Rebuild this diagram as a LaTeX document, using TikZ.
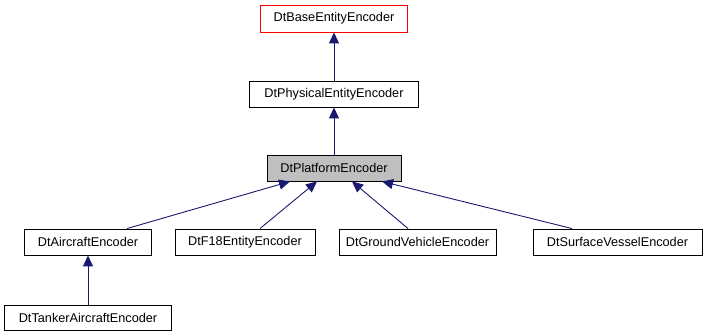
\documentclass[tikz,border=0pt]{standalone}
\usepackage{fontspec}
\setmainfont{Liberation Sans}
\usetikzlibrary{arrows.meta}
\definecolor{edgeblue}{HTML}{191970}
\definecolor{boxgray}{HTML}{BFBFBF}
\tikzset{
  cls/.style={draw=black, line width=0.9pt, fill=white, minimum height=26pt, inner sep=0pt, font=\fontsize{12.7}{15}\selectfont},
  inherit/.style={draw=edgeblue, line width=0.9pt, -{Triangle[length=11pt,width=10pt]}, color=edgeblue}
}
\begin{document}
\begin{tikzpicture}[x=1pt,y=-1pt]
\useasboundingbox[fill=white] (0,0) rectangle (707,336);
\node[cls, draw=red, minimum width=147pt, minimum height=27pt] (base) at (334,18.5) {DtBaseEntityEncoder};
\node[cls, minimum width=169pt] (phys) at (334,94) {DtPhysicalEntityEncoder};
\node[cls, fill=boxgray, minimum width=134pt] (plat) at (334,168) {DtPlatformEncoder};
\node[cls, minimum width=127pt] (air) at (88,242) {DtAircraftEncoder};
\node[cls, minimum width=140pt] (f18) at (245,242) {DtF18EntityEncoder};
\node[cls, minimum width=157pt] (ground) at (417.5,242) {DtGroundVehicleEncoder};
\node[cls, minimum width=169pt] (surf) at (617.5,242) {DtSurfaceVesselEncoder};
\node[cls, minimum width=167pt, minimum height=25pt] (tank) at (88,317.5) {DtTankerAircraftEncoder};
\draw[inherit] (phys.north) -- (base.south);
\draw[inherit] (plat.north) -- (phys.south);
\draw[inherit] ([xshift=39pt]air.north) -- ([xshift=-44pt]plat.south);
\draw[inherit] ([xshift=15pt]f18.north) -- ([xshift=-17pt]plat.south);
\draw[inherit] ([xshift=-9.5pt]ground.north) -- ([xshift=18pt]plat.south);
\draw[inherit] ([xshift=-45.5pt]surf.north) -- ([xshift=48pt]plat.south);
\draw[inherit] (tank.north) -- (air.south);
\end{tikzpicture}
\end{document}
